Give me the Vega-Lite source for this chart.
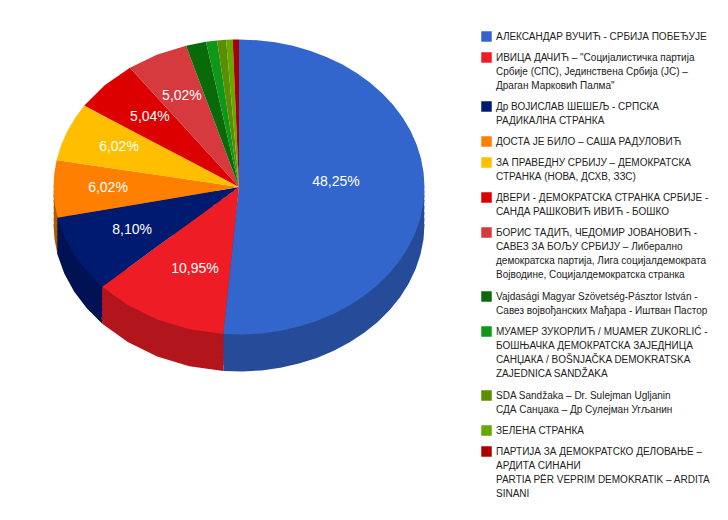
{"$schema":"https://vega.github.io/schema/vega-lite/v6.json","autosize":{"type":"fit","contains":"padding"},"width":728,"height":520,"padding":0,"background":"white","config":{"view":{"stroke":null}},
"datasets":{
"front":[
{"type":"Feature","properties":{"name":"АЛЕКСАНДАР ВУЧИЋ - СРБИЈА ПОБЕЂУЈЕ"},"geometry":{"type":"Polygon","coordinates":[[[0,52.67],[90,0],[-4.85,0],[0,52.67]]]}},
{"type":"Feature","properties":{"name":"ИВИЦА ДАЧИЋ – \"Социјалистичка партија\nСрбије (СПС), Јединствена Србија (ЈС) –\nДраган Марковић Палма\""},"geometry":{"type":"Polygon","coordinates":[[[0,52.67],[-4.85,0],[-47.5,0],[0,52.67]]]}},
{"type":"Feature","properties":{"name":"Др ВОЈИСЛАВ ШЕШЕЉ - СРПСКА\nРАДИКАЛНА СТРАНКА"},"geometry":{"type":"Polygon","coordinates":[[[0,52.67],[-47.5,0],[-78,0],[0,52.67]]]}},
{"type":"Feature","properties":{"name":"ДОСТА ЈЕ БИЛО – САША РАДУЛОВИЋ"},"geometry":{"type":"Polygon","coordinates":[[[0,52.67],[-78,0],[-90,0],[0,52.67]]]}}
],
"back":[
{"type":"Feature","properties":{"name":"ДОСТА ЈЕ БИЛО – САША РАДУЛОВИЋ"},"geometry":{"type":"Polygon","coordinates":[[[0,52.67],[90,0],[79.5,0],[0,52.67]]]}},
{"type":"Feature","properties":{"name":"ЗА ПРАВЕДНУ СРБИЈУ – ДЕМОКРАТСКА\nСТРАНКА (НОВА, ДСХВ, ЗЗС)"},"geometry":{"type":"Polygon","coordinates":[[[0,52.67],[79.5,0],[56.5,0],[0,52.67]]]}},
{"type":"Feature","properties":{"name":"ДВЕРИ - ДЕМОКРАТСКА СТРАНКА СРБИЈЕ -\nСАНДА РАШКОВИЋ ИВИЋ - БОШКО"},"geometry":{"type":"Polygon","coordinates":[[[0,52.67],[56.5,0],[36,0],[0,52.67]]]}},
{"type":"Feature","properties":{"name":"БОРИС ТАДИЋ, ЧЕДОМИР ЈОВАНОВИЋ -\nСАВЕЗ ЗА БОЉУ СРБИЈУ – Либерално\nдемократска партија, Лига социјалдемократа\nВојводине, Социјалдемократска странка"},"geometry":{"type":"Polygon","coordinates":[[[0,52.67],[36,0],[16.6,0],[0,52.67]]]}},
{"type":"Feature","properties":{"name":"Vajdasági Magyar Szövetség-Pásztor István -\nСавез војвођанских Мађара - Иштван Пастор"},"geometry":{"type":"Polygon","coordinates":[[[0,52.67],[16.6,0],[10.25,0],[0,52.67]]]}},
{"type":"Feature","properties":{"name":"МУАМЕР ЗУКОРЛИЋ / MUAMER ZUKORLIĆ -\nБОШЊАЧКА ДЕМОКРАТСКА ЗАЈЕДНИЦА\nСАНЏАКА / BOŠNJAČKA DEMOKRATSKA\nZAJEDNICA SANDŽAKA"},"geometry":{"type":"Polygon","coordinates":[[[0,52.67],[10.25,0],[6.8,0],[0,52.67]]]}},
{"type":"Feature","properties":{"name":"SDA Sandžaka – Dr. Sulejman Ugljanin\nСДА Санџака – Др Сулејман Угљанин"},"geometry":{"type":"Polygon","coordinates":[[[0,52.67],[6.8,0],[4,0],[0,52.67]]]}},
{"type":"Feature","properties":{"name":"ЗЕЛЕНА СТРАНКА"},"geometry":{"type":"Polygon","coordinates":[[[0,52.67],[4,0],[1.95,0],[0,52.67]]]}},
{"type":"Feature","properties":{"name":"ПАРТИЈА ЗА ДЕМОКРАТСКО ДЕЛОВАЊЕ –\nАРДИТА СИНАНИ\nPARTIA PËR VEPRIM DEMOKRATIK – ARDITA\nSINANI"},"geometry":{"type":"Polygon","coordinates":[[[0,52.67],[1.95,0],[0,0],[0,52.67]]]}},
{"type":"Feature","properties":{"name":"АЛЕКСАНДАР ВУЧИЋ - СРБИЈА ПОБЕЂУЈЕ"},"geometry":{"type":"Polygon","coordinates":[[[0,52.67],[0,0],[-90,0],[0,52.67]]]}}
],
"walls":[
{"type":"Feature","properties":{"name":"бок 4"},"geometry":{"type":"Polygon","coordinates":[[[-78,0],[-90,0],[0,52.67],[-78,0]]]}},
{"type":"Feature","properties":{"name":"бок 1"},"geometry":{"type":"Polygon","coordinates":[[[90,0],[-4.85,0],[-5.06,16.49],[0,52.67],[90,0]]]}},
{"type":"Feature","properties":{"name":"бок 2"},"geometry":{"type":"Polygon","coordinates":[[[-4.85,0],[-47.5,0],[-49.9,15.43],[-5.06,16.49],[-4.85,0]]]}},
{"type":"Feature","properties":{"name":"бок 3"},"geometry":{"type":"Polygon","coordinates":[[[-47.5,0],[-78,0],[-84.62,10.73],[-49.9,15.43],[-47.5,0]]]}}
],
"labels":[
{"label":"48,25%","lon":46.81,"lat":44.17},
{"label":"10,95%","lon":-15.2,"lat":25.15},
{"label":"8,10%","lon":-41.3,"lat":29.13},
{"label":"6,02%","lon":-58.7,"lat":34.26},
{"label":"6,02%","lon":-67.6,"lat":45.59},
{"label":"5,04%","lon":-70.0,"lat":59.28},
{"label":"5,02%","lon":-72.3,"lat":71.17}
]},
"encoding":{"color":{"field":"properties.name","type":"nominal","scale":{"domain":["АЛЕКСАНДАР ВУЧИЋ - СРБИЈА ПОБЕЂУЈЕ","ИВИЦА ДАЧИЋ – \"Социјалистичка партија\nСрбије (СПС), Јединствена Србија (ЈС) –\nДраган Марковић Палма\"","Др ВОЈИСЛАВ ШЕШЕЉ - СРПСКА\nРАДИКАЛНА СТРАНКА","ДОСТА ЈЕ БИЛО – САША РАДУЛОВИЋ","ЗА ПРАВЕДНУ СРБИЈУ – ДЕМОКРАТСКА\nСТРАНКА (НОВА, ДСХВ, ЗЗС)","ДВЕРИ - ДЕМОКРАТСКА СТРАНКА СРБИЈЕ -\nСАНДА РАШКОВИЋ ИВИЋ - БОШКО","БОРИС ТАДИЋ, ЧЕДОМИР ЈОВАНОВИЋ -\nСАВЕЗ ЗА БОЉУ СРБИЈУ – Либерално\nдемократска партија, Лига социјалдемократа\nВојводине, Социјалдемократска странка","Vajdasági Magyar Szövetség-Pásztor István -\nСавез војвођанских Мађара - Иштван Пастор","МУАМЕР ЗУКОРЛИЋ / MUAMER ZUKORLIĆ -\nБОШЊАЧКА ДЕМОКРАТСКА ЗАЈЕДНИЦА\nСАНЏАКА / BOŠNJAČKA DEMOKRATSKA\nZAJEDNICA SANDŽAKA","SDA Sandžaka – Dr. Sulejman Ugljanin\nСДА Санџака – Др Сулејман Угљанин","ЗЕЛЕНА СТРАНКА","ПАРТИЈА ЗА ДЕМОКРАТСКО ДЕЛОВАЊЕ –\nАРДИТА СИНАНИ\nPARTIA PËR VEPRIM DEMOKRATIK – ARDITA\nSINANI","бок 1","бок 2","бок 3","бок 4"],"range":["#3366cc","#ee1c25","#001a70","#ff8000","#ffbf00","#dc0000","#d63a3f","#0a6a0a","#109618","#5a8e00","#66aa00","#aa0000","#264c99","#b2151c","#001254","#b25a00"]},
"legend":{"title":null,"orient":"none","legendX":481,"legendY":31,"symbolType":"square","symbolSize":110,"symbolStrokeWidth":0,"labelFont":"Liberation Sans","labelFontSize":10,"labelColor":"#222222","labelLimit":260,"labelOffset":4,"rowPadding":10,"labelExpr":"split(datum.label,'\\n')","values":["АЛЕКСАНДАР ВУЧИЋ - СРБИЈА ПОБЕЂУЈЕ","ИВИЦА ДАЧИЋ – \"Социјалистичка партија\nСрбије (СПС), Јединствена Србија (ЈС) –\nДраган Марковић Палма\"","Др ВОЈИСЛАВ ШЕШЕЉ - СРПСКА\nРАДИКАЛНА СТРАНКА","ДОСТА ЈЕ БИЛО – САША РАДУЛОВИЋ","ЗА ПРАВЕДНУ СРБИЈУ – ДЕМОКРАТСКА\nСТРАНКА (НОВА, ДСХВ, ЗЗС)","ДВЕРИ - ДЕМОКРАТСКА СТРАНКА СРБИЈЕ -\nСАНДА РАШКОВИЋ ИВИЋ - БОШКО","БОРИС ТАДИЋ, ЧЕДОМИР ЈОВАНОВИЋ -\nСАВЕЗ ЗА БОЉУ СРБИЈУ – Либерално\nдемократска партија, Лига социјалдемократа\nВојводине, Социјалдемократска странка","Vajdasági Magyar Szövetség-Pásztor István -\nСавез војвођанских Мађара - Иштван Пастор","МУАМЕР ЗУКОРЛИЋ / MUAMER ZUKORLIĆ -\nБОШЊАЧКА ДЕМОКРАТСКА ЗАЈЕДНИЦА\nСАНЏАКА / BOŠNJAČKA DEMOKRATSKA\nZAJEDNICA SANDŽAKA","SDA Sandžaka – Dr. Sulejman Ugljanin\nСДА Санџака – Др Сулејман Угљанин","ЗЕЛЕНА СТРАНКА","ПАРТИЈА ЗА ДЕМОКРАТСКО ДЕЛОВАЊЕ –\nАРДИТА СИНАНИ\nPARTIA PËR VEPRIM DEMOKRATIK – ARDITA\nSINANI"],"encode":{"labels":{"update":{"lineHeight":{"value":14.2}}}}}}},
"layer":[
{"data":{"name":"walls"},"mark":{"type":"geoshape"},"projection":{"type":"orthographic","rotate":[0,-52.67,0],"scale":185.5,"translate":[239,224]}},
{"data":{"name":"walls"},"mark":{"type":"geoshape"},"projection":{"type":"orthographic","rotate":[0,-52.67,0],"scale":185.5,"translate":[239,218]}},
{"data":{"name":"walls"},"mark":{"type":"geoshape"},"projection":{"type":"orthographic","rotate":[0,-52.67,0],"scale":185.5,"translate":[239,212]}},
{"data":{"name":"walls"},"mark":{"type":"geoshape"},"projection":{"type":"orthographic","rotate":[0,-52.67,0],"scale":185.5,"translate":[239,206]}},
{"data":{"name":"walls"},"mark":{"type":"geoshape"},"projection":{"type":"orthographic","rotate":[0,-52.67,0],"scale":185.5,"translate":[239,200]}},
{"data":{"name":"walls"},"mark":{"type":"geoshape"},"projection":{"type":"orthographic","rotate":[0,-52.67,0],"scale":185.5,"translate":[239,195]}},
{"data":{"name":"walls"},"mark":{"type":"geoshape"},"projection":{"type":"orthographic","rotate":[0,-52.67,0],"scale":185.5,"translate":[239,191]}},
{"data":{"name":"front"},"mark":{"type":"geoshape"},"projection":{"type":"orthographic","rotate":[0,-52.67,0],"scale":185.5,"translate":[239,187]}},
{"data":{"name":"back"},"mark":{"type":"geoshape"},"projection":{"type":"orthographic","rotate":[0,-52.67,180],"scale":185.5,"translate":[239,187]}},
{"data":{"name":"labels"},"mark":{"type":"text","font":"Liberation Sans","fontSize":14,"color":"white","align":"center","baseline":"middle","dy":1},"projection":{"type":"orthographic","rotate":[0,-52.67,0],"scale":185.5,"translate":[239,187]},"encoding":{"color":{"value":"white"},"longitude":{"field":"lon","type":"quantitative"},"latitude":{"field":"lat","type":"quantitative"},"text":{"field":"label","type":"nominal"}}}
]}
